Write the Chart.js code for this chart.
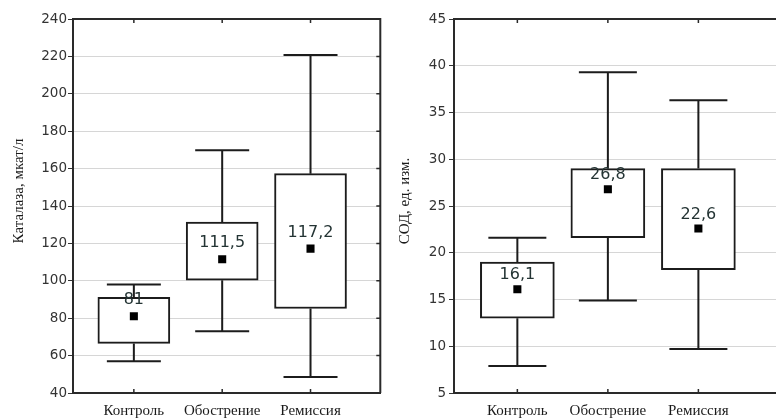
<!DOCTYPE html>
<html>
<head>
<meta charset="utf-8">
<script src="https://cdn.jsdelivr.net/npm/chart.js@4.4.0/dist/chart.umd.min.js"></script>
<style>
html, body { margin: 0; padding: 0; background: #fff; width: 776px; height: 418px; overflow: hidden; position: relative; }
canvas { position: absolute; top: 0; }
#c1 { left: 0; }
#c2 { left: 386px; }
</style>
</head>
<body>
<canvas id="c1" width="386" height="418"></canvas>
<canvas id="c2" width="400" height="418"></canvas>
<script>
const categories = ['Контроль', 'Обострение', 'Ремиссия'];

// Каталаза, мкат/л
const catMin  = [57, 73, 48.5];
const catQ1   = [66.5, 100.3, 85.2];
const catQ3   = [91.2, 131.4, 157.3];
const catMax  = [98, 169.8, 220.8];
const catMean = [81, 111.5, 117.2];
const catTicks = [40, 240, 20]; // min, max, step

// СОД, ед. изм.
const sodMin  = [7.9, 14.9, 9.7];
const sodQ1   = [13.0, 21.6, 18.2];
const sodQ3   = [19.0, 29.0, 29.0];
const sodMax  = [21.6, 39.3, 36.3];
const sodMean = [16.1, 26.8, 22.6];
const sodTicks = [5, 45, 5];

const lineColor = '#1c1c1c';

// whiskers: vertical line from box edge to min/max plus a cap
const whiskers = {
    id: 'whiskers',
    beforeDatasetsDraw(chart, args, opts) {
        const { ctx, scales: { x, y } } = chart;
        ctx.save();
        ctx.strokeStyle = lineColor;
        ctx.lineWidth = 2;
        opts.min.forEach((v, i) => {
            const px = x.getPixelForValue(i + 1);
            const half = opts.cap / 2;
            ctx.beginPath();
            ctx.moveTo(px, y.getPixelForValue(opts.q3[i]));
            ctx.lineTo(px, y.getPixelForValue(opts.max[i]));
            ctx.moveTo(px - half, y.getPixelForValue(opts.max[i]));
            ctx.lineTo(px + half, y.getPixelForValue(opts.max[i]));
            ctx.moveTo(px, y.getPixelForValue(opts.q1[i]));
            ctx.lineTo(px, y.getPixelForValue(v));
            ctx.moveTo(px - half, y.getPixelForValue(v));
            ctx.lineTo(px + half, y.getPixelForValue(v));
            ctx.stroke();
        });
        ctx.restore();
    }
};

// mean value text above the marker
const meanLabels = {
    id: 'meanLabels',
    afterDatasetsDraw(chart, args, opts) {
        const { ctx, scales: { x, y } } = chart;
        ctx.save();
        ctx.font = '16px "DejaVu Sans"';
        ctx.fillStyle = '#243434';
        ctx.textAlign = 'center';
        ctx.textBaseline = 'middle';
        opts.values.forEach((v, i) => {
            ctx.fillText(String(v).replace('.', ','), x.getPixelForValue(i + 1), y.getPixelForValue(v) - opts.offset);
        });
        ctx.restore();
    }
};

// top / right frame with inward ticks
const frame = {
    id: 'frame',
    afterDraw(chart) {
        const { ctx, chartArea: a, scales: { x, y } } = chart;
        ctx.save();
        ctx.strokeStyle = '#2a2a2a';
        ctx.lineWidth = 2;
        ctx.beginPath();
        ctx.moveTo(a.left, a.top);
        ctx.lineTo(a.right, a.top);
        ctx.lineTo(a.right, a.bottom);
        ctx.stroke();
        ctx.lineWidth = 1.5;
        ctx.beginPath();
        x.ticks.forEach(t => {
            const px = x.getPixelForValue(t.value);
            ctx.moveTo(px, a.top);
            ctx.lineTo(px, a.top + 4);
            ctx.moveTo(px, a.bottom);
            ctx.lineTo(px, a.bottom - 4);
        });
        y.ticks.forEach(t => {
            const py = y.getPixelForValue(t.value);
            ctx.moveTo(a.right, py);
            ctx.lineTo(a.right - 4, py);
        });
        ctx.stroke();
        ctx.restore();
    }
};

// rotated axis title
const yTitle = {
    id: 'yTitle',
    afterDraw(chart, args, opts) {
        const { ctx } = chart;
        ctx.save();
        ctx.translate(opts.x, opts.y);
        ctx.rotate(-Math.PI / 2);
        ctx.font = '15px "Liberation Serif"';
        ctx.fillStyle = '#1a1a1a';
        ctx.textAlign = 'center';
        ctx.textBaseline = 'middle';
        ctx.fillText(opts.text, 0, 0);
        ctx.restore();
    }
};

function makeChart(id, p) {
    return new Chart(document.getElementById(id), {
        type: 'bar',
        data: {
            datasets: [{
                type: 'scatter',
                data: p.mean.map((v, i) => ({ x: i + 1, y: v })),
                pointStyle: 'rect',
                pointRadius: 5.7,
                backgroundColor: '#000',
                borderWidth: 0,
                order: 1
            }, {
                data: p.q1.map((v, i) => ({ x: i + 1, y: [v, p.q3[i]] })),
                backgroundColor: '#fff',
                borderColor: lineColor,
                borderWidth: 2,
                borderSkipped: false,
                barThickness: p.box,
                order: 2
            }]
        },
        options: {
            responsive: false,
            animation: false,
            layout: { padding: { top: 19, right: p.padRight, left: 0, bottom: 0 } },
            plugins: {
                legend: { display: false },
                tooltip: { enabled: false },
                whiskers: { min: p.min, q1: p.q1, q3: p.q3, max: p.max, cap: p.cap },
                meanLabels: { values: p.mean, offset: p.labelOffset },
                yTitle: { text: p.title, x: 19, y: p.titleY }
            },
            scales: {
                x: {
                    type: 'linear',
                    offset: false,
                    min: p.xMin,
                    max: p.xMax,
                    afterBuildTicks: s => { s.ticks = categories.map((c, i) => ({ value: i + 1 })); },
                    ticks: {
                        callback: v => categories[v - 1],
                        color: '#1a1a1a',
                        font: { family: 'Liberation Serif', size: 15 },
                        padding: 9,
                        autoSkip: false,
                        maxRotation: 0
                    },
                    grid: { drawOnChartArea: false, drawTicks: false, offset: false },
                    border: { color: '#2a2a2a', width: 2 },
                    afterFit: s => { s.height = 25; }
                },
                y: {
                    min: p.ticks[0],
                    max: p.ticks[1],
                    ticks: {
                        stepSize: p.ticks[2],
                        padding: p.tickPad,
                        color: '#333',
                        font: { family: 'DejaVu Sans', size: 13.5 }
                    },
                    grid: { color: '#d6d6d6', tickColor: '#333', tickLength: 5, lineWidth: 1 },
                    border: { color: '#2a2a2a', width: 2 },
                    afterFit: s => { s.width = p.yWidth; }
                }
            }
        },
        plugins: [whiskers, meanLabels, frame, yTitle]
    });
}

makeChart('c1', {
    min: catMin, q1: catQ1, q3: catQ3, max: catMax, mean: catMean, ticks: catTicks,
    title: 'Каталаза, мкат/л', titleY: 191,
    xMin: 0.311, xMax: 3.79, yWidth: 73, padRight: 5, tickPad: 1,
    box: 72, cap: 54, labelOffset: 16
});

makeChart('c2', {
    min: sodMin, q1: sodQ1, q3: sodQ3, max: sodMax, mean: sodMean, ticks: sodTicks,
    title: 'СОД, ед. изм.', titleY: 201,
    xMin: 0.30, xMax: 3.905, yWidth: 68, padRight: 0, tickPad: 3,
    box: 74, cap: 58, labelOffset: 14
});
</script>
</body>
</html>
